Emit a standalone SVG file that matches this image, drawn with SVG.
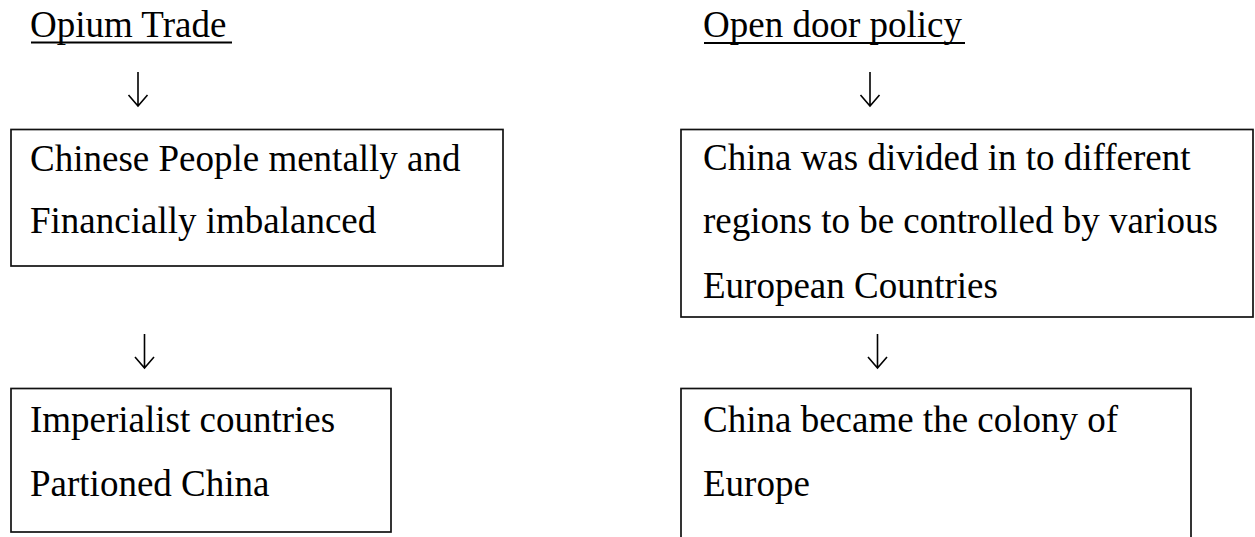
<svg xmlns="http://www.w3.org/2000/svg" width="1255" height="537" viewBox="0 0 1255 537">
  <style>
    .bg { fill: #ffffff; }
    .box { fill: none; stroke: #111111; stroke-width: 1.7; }
    .txt { font-family: "Liberation Serif", "Times New Roman", serif; font-size: 37px; fill: #000000; }
    .ul { stroke: #000000; stroke-width: 1.8; }
    .arrow { fill: none; stroke: #000000; stroke-width: 1.6; stroke-linecap: butt; stroke-linejoin: miter; }
  </style>
  <rect class="bg" x="0" y="0" width="1255" height="537"/>

  <!-- column headings -->
  <g id="opium-trade">
    <text class="txt" x="30" y="37">Opium Trade</text>
    <line class="ul" x1="31" y1="42.5" x2="232" y2="42.5"/>
  </g>
  <g id="open-door-policy">
    <text class="txt" x="703" y="37">Open door policy</text>
    <line class="ul" x1="704" y1="43" x2="965" y2="43"/>
  </g>

  <!-- left column -->
  <g id="mental-financial">
    <rect class="box" x="11" y="129.5" width="492" height="136.5"/>
    <text class="txt" x="30" y="171">Chinese People mentally and</text>
    <text class="txt" x="30" y="233">Financially imbalanced</text>
  </g>
  <g id="partitioned">
    <rect class="box" x="11" y="388.5" width="380" height="143.5"/>
    <text class="txt" x="30" y="432">Imperialist countries</text>
    <text class="txt" x="30" y="496">Partioned China</text>
  </g>

  <!-- right column -->
  <g id="divided-regions">
    <rect class="box" x="681" y="129.5" width="572" height="187.5"/>
    <text class="txt" x="703" y="170">China was divided in to different</text>
    <text class="txt" x="703" y="233">regions to be controlled by various</text>
    <text class="txt" x="703" y="298">European Countries</text>
  </g>
  <g id="colony">
    <rect class="box" x="681" y="388.5" width="510" height="160"/>
    <text class="txt" x="703" y="432">China became the colony of</text>
    <text class="txt" x="703" y="496">Europe</text>
  </g>

  <!-- downward arrows -->
  <g id="connectors">
    <path class="arrow" d="M138 72 V106 M128.5 95 L138 106 L147.5 95"/>
    <path class="arrow" d="M144.5 334 V368 M135 357 L144.5 368 L154 357"/>
    <path class="arrow" d="M870 72 V106 M860.5 95 L870 106 L879.5 95"/>
    <path class="arrow" d="M877.5 334 V368 M868 357 L877.5 368 L887 357"/>
  </g>
</svg>
